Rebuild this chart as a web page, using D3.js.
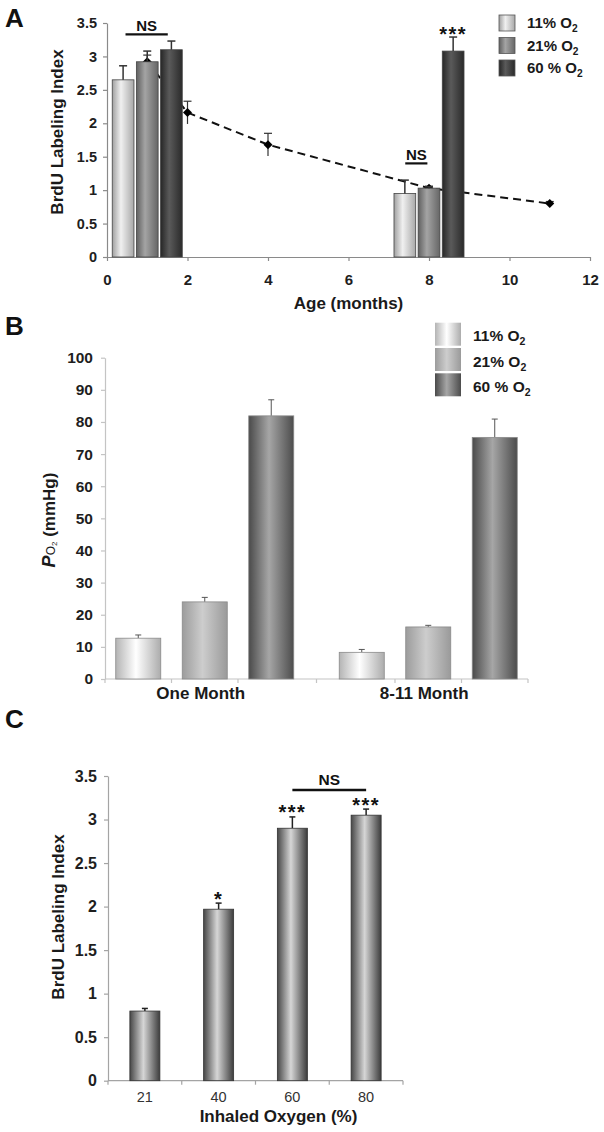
<!DOCTYPE html>
<html><head><meta charset="utf-8">
<script src="https://cdn.jsdelivr.net/npm/d3@7"></script>
<style>
body{margin:0;background:#fff;}
svg{display:block;font-family:"Liberation Sans",Arial,sans-serif;}
</style></head><body><svg id="c" width="604" height="1132"></svg>
<script>
// ---------- Panel A data ----------
const seriesA = ["11% O", "21% O", "60 % O"];
const groupAges = [1, 8];
const barA11 = [2.65, 0.95];
const barA21 = [2.92, 1.03];
const barA60 = [3.10, 3.08];
const errA11 = [0.21, 0.20];
const errA21 = [0.16, 0.02];
const errA60 = [0.13, 0.21];
const lineAges = [1, 2, 4, 8, 11];
const lineVals = [2.92, 2.16, 1.68, 1.03, 0.80];
const lineErr = [0.10, 0.17, 0.17, 0.03, 0.03];
const ticksAx = [0, 2, 4, 6, 8, 10, 12];
const ticksAy = [0, 0.5, 1, 1.5, 2, 2.5, 3, 3.5];
// annotations: [x0, x1 (months), y value, label]
const nsA = [[0.46, 1.51, 3.33, "NS"], [7.41, 7.96, 1.40, "NS"]];
const starsA = ["", "***"]; // over 60% bars per group

// ---------- Panel B data ----------
const seriesB = ["11% O", "21% O", "60 % O"];
const categoriesB = ["One Month", "8-11 Month"];
const barB11 = [12.7, 8.3];
const barB21 = [24.0, 16.2];
const barB60 = [81.9, 75.2];
const errB11 = [1.0, 0.9];
const errB21 = [1.4, 0.5];
const errB60 = [5.0, 5.7];
const ticksBy = [0, 10, 20, 30, 40, 50, 60, 70, 80, 90, 100];

// ---------- Panel C data ----------
const categoriesC = ["21", "40", "60", "80"];
const valuesC = [0.80, 1.97, 2.90, 3.05];
const errC = [0.03, 0.07, 0.13, 0.07];
const starsC = ["", "*", "***", "***"];
const nsC = [["60", "80", 3.34, "NS"]];
const ticksCy = [0, 0.5, 1, 1.5, 2, 2.5, 3, 3.5];

const svg = d3.select("#c");
const defs = svg.append("defs");
function grad(id, stops) {
  const g = defs.append("linearGradient").attr("id", id)
    .attr("x1", "0").attr("x2", "1").attr("y1", "0").attr("y2", "0");
  stops.forEach(([o, c]) => g.append("stop").attr("offset", o).attr("stop-color", c));
}
grad("gA0", [[0, "#a0a0a0"], [0.4, "#f0f0f0"], [1, "#a8a8a8"]]);
grad("gA1", [[0, "#606060"], [0.4, "#a4a4a4"], [1, "#666666"]]);
grad("gA2", [[0, "#262626"], [0.4, "#5a5a5a"], [1, "#2a2a2a"]]);
grad("gB0", [[0, "#b4b4b4"], [0.45, "#ffffff"], [1, "#acacac"]]);
grad("gB1", [[0, "#9c9c9c"], [0.45, "#cdcdcd"], [1, "#9a9a9a"]]);
grad("gB2", [[0, "#4a4a4a"], [0.45, "#a6a6a6"], [1, "#4c4c4c"]]);
grad("gC", [[0, "#474747"], [0.45, "#d6d6d6"], [1, "#3c3c3c"]]);

const FONT = "'Liberation Sans', Arial, sans-serif";
function errBar(g, cx, yTop, yBase, capW, color, w) {
  g.append("line").attr("x1", cx).attr("x2", cx).attr("y1", yBase).attr("y2", yTop)
    .attr("stroke", color).attr("stroke-width", w);
  g.append("line").attr("x1", cx - capW / 2).attr("x2", cx + capW / 2).attr("y1", yTop).attr("y2", yTop)
    .attr("stroke", color).attr("stroke-width", w);
}
function styleAxis(ax, col, fs, weight, tcol) {
  ax.selectAll("path.domain").attr("stroke", col).attr("stroke-width", 1.2);
  ax.selectAll(".tick line").attr("stroke", col).attr("stroke-width", 1.2);
  ax.selectAll(".tick text").attr("font-size", fs).attr("font-weight", weight)
    .attr("fill", tcol).attr("font-family", FONT);
}
function subLabel(g, x, y, main, fs, weight) {
  const t = g.append("text").attr("x", x).attr("y", y).attr("font-size", fs)
    .attr("font-weight", weight).attr("fill", "#1a1a1a");
  t.append("tspan").text(main);
  t.append("tspan").attr("dy", 4).attr("font-size", fs * 0.68).text("2");
  return t;
}
function panelLabel(t, y) {
  svg.append("text").attr("x", 5).attr("y", y).attr("font-size", 26).attr("font-weight", "bold")
    .attr("fill", "#111").text(t);
}
function stars(g, x, y, t) {
  g.append("text").attr("x", x).attr("y", y).attr("text-anchor", "middle")
    .attr("font-size", 20).attr("font-weight", "bold").attr("letter-spacing", 1.5).attr("fill", "#111").text(t);
}

// =============== PANEL A ===============
const xA = d3.scaleLinear().domain([0, 12]).range([107, 590]);
const yA = d3.scaleLinear().domain([0, 3.5]).range([257, 23]);
const gA = svg.append("g");
panelLabel("A", 27);

const axAy = gA.append("g").attr("transform", `translate(${xA(0)},0)`)
  .call(d3.axisLeft(yA).tickValues(ticksAy).tickSize(4).tickSizeOuter(0).tickPadding(6).tickFormat(d3.format("")));
styleAxis(axAy, "#8a8a8a", 14.5, "bold", "#1e1e1e");
const axAx = gA.append("g").attr("transform", `translate(0,${yA(0)})`)
  .call(d3.axisBottom(xA).tickValues(ticksAx).tickSize(4).tickSizeOuter(0).tickPadding(13).tickFormat(d3.format("")));
styleAxis(axAx, "#8a8a8a", 15, "bold", "#1e1e1e");

gA.append("text").attr("transform", `translate(63,132) rotate(-90)`).attr("text-anchor", "middle")
  .attr("font-size", 17).attr("font-weight", "bold").attr("fill", "#1a1a1a").text("BrdU Labeling Index");
gA.append("text").attr("x", xA(6)).attr("y", 309).attr("text-anchor", "middle")
  .attr("font-size", 17).attr("font-weight", "bold").attr("fill", "#1a1a1a").text("Age (months)");

// dashed line (behind bars)
const linePts = lineAges.map((a, i) => [a, lineVals[i], lineErr[i]]);
gA.append("path").datum(linePts)
  .attr("d", d3.line().x(d => xA(d[0])).y(d => yA(d[1])))
  .attr("fill", "none").attr("stroke", "#111").attr("stroke-width", 2).attr("stroke-dasharray", "8,5");
linePts.forEach(d => {
  errBar(gA, xA(d[0]), yA(d[1] + d[2]), yA(d[1] - d[2]), 8, "#333", 1.2);
  gA.append("path").attr("d", d3.symbol(d3.symbolSquare, 40)())
    .attr("transform", `translate(${xA(d[0])},${yA(d[1])}) rotate(45)`).attr("fill", "#000");
});

const innerA = d3.scaleBand().domain(seriesA).range([-0.9, 0.9]).paddingInner(0.1).paddingOuter(0.05);
const valsA = [barA11, barA21, barA60], errsA = [errA11, errA21, errA60];
seriesA.forEach((s, si) => {
  groupAges.forEach((age, gi) => {
    const x0 = xA(age + innerA(s)), x1 = xA(age + innerA(s) + innerA.bandwidth());
    const v = valsA[si][gi], e = errsA[si][gi];
    gA.append("rect").attr("x", x0).attr("y", yA(v)).attr("width", x1 - x0).attr("height", yA(0) - yA(v))
      .attr("fill", "url(#gA" + si + ")").attr("stroke", "#444").attr("stroke-width", 0.8);
    errBar(gA, (x0 + x1) / 2, yA(v + e), yA(v), 8, "#333", 1.5);
    if (si === 2 && starsA[gi]) stars(gA, (x0 + x1) / 2, yA(v + e) + 4, starsA[gi]);
  });
});
nsA.forEach(([a0, a1, v, t]) => {
  gA.append("line").attr("x1", xA(a0)).attr("x2", xA(a1)).attr("y1", yA(v)).attr("y2", yA(v))
    .attr("stroke", "#111").attr("stroke-width", 2.2);
  gA.append("text").attr("x", (xA(a0) + xA(a1)) / 2).attr("y", yA(v) - 3).attr("text-anchor", "middle")
    .attr("font-size", 15).attr("font-weight", "bold").attr("fill", "#111").text(t);
});
// legend A
seriesA.forEach((s, i) => {
  const y = 15 + i * 22.5;
  gA.append("rect").attr("x", 499).attr("y", y).attr("width", 16).attr("height", 16)
    .attr("fill", "url(#gA" + i + ")").attr("stroke", "#555").attr("stroke-width", 0.8);
  subLabel(gA, 527, y + 13, s, 15, "bold");
});

// =============== PANEL B ===============
const yB = d3.scaleLinear().domain([0, 100]).range([679, 357.7]);
const xB = d3.scaleBand().domain(categoriesB).range([93, 540]);
const innerB = d3.scaleBand().domain(seriesB).range([0, xB.bandwidth()]).paddingInner(0.323).paddingOuter(0.342);
const gB = svg.append("g");
panelLabel("B", 335);

const axBy = gB.append("g").attr("transform", "translate(105,0)")
  .call(d3.axisLeft(yB).tickValues(ticksBy).tickSize(4).tickSizeOuter(0).tickPadding(8));
styleAxis(axBy, "#c4c4c4", 15.5, "bold", "#1e1e1e");
gB.append("line").attr("x1", 105).attr("x2", 528).attr("y1", yB(0)).attr("y2", yB(0))
  .attr("stroke", "#c4c4c4").attr("stroke-width", 1.2);

const valsB = [barB11, barB21, barB60], errsB = [errB11, errB21, errB60];
const barEdgesB = [];
categoriesB.forEach((c, ci) => {
  seriesB.forEach((s, si) => {
    const x0 = xB(c) + innerB(s), w = innerB.bandwidth();
    const v = valsB[si][ci], e = errsB[si][ci];
    barEdgesB.push([x0, x0 + w]);
    errBar(gB, x0 + w / 2, yB(v + e), yB(v), 6, "#555", 1);
    gB.append("rect").attr("x", x0).attr("y", yB(v)).attr("width", w).attr("height", yB(0) - yB(v))
      .attr("fill", "url(#gB" + si + ")").attr("stroke", "#8a8a8a").attr("stroke-width", 0.8);
  });
});
const tickXsB = [105];
for (let i = 1; i < barEdgesB.length; i++) tickXsB.push((barEdgesB[i - 1][1] + barEdgesB[i][0]) / 2);
tickXsB.push(528);
tickXsB.forEach(x => gB.append("line").attr("x1", x).attr("x2", x).attr("y1", yB(0)).attr("y2", yB(0) + 4)
  .attr("stroke", "#c4c4c4").attr("stroke-width", 1.2));
categoriesB.forEach(c => {
  gB.append("text").attr("x", xB(c) + xB.bandwidth() / 2 - 4).attr("y", 699).attr("text-anchor", "middle")
    .attr("font-size", 17).attr("font-weight", "bold").attr("fill", "#1a1a1a").text(c);
});
// y title B
const tB = gB.append("text").attr("transform", "translate(55,520) rotate(-90)").attr("text-anchor", "middle")
  .attr("fill", "#1a1a1a");
tB.append("tspan").attr("font-size", 18).attr("font-weight", "bold").attr("font-style", "italic").text("P");
tB.append("tspan").attr("font-size", 12).text("O");
tB.append("tspan").attr("font-size", 8).attr("dy", 2).text("2");
tB.append("tspan").attr("font-size", 17).attr("font-weight", "bold").attr("dy", -2).text(" (mmHg)");
// legend B
seriesB.forEach((s, i) => {
  const y = 322.7 + i * 25.3;
  gB.append("rect").attr("x", 435).attr("y", y).attr("width", 26).attr("height", 23)
    .attr("fill", "url(#gB" + i + ")");
  subLabel(gB, 473, y + 18.5, s, 15.5, "bold");
});

// =============== PANEL C ===============
const yC = d3.scaleLinear().domain([0, 3.5]).range([1080.7, 776]);
const xC = d3.scaleBand().domain(categoriesC).range([108, 403]).paddingInner(0.593).paddingOuter(0.2965);
const gC = svg.append("g");
panelLabel("C", 728);

const axCy = gC.append("g").attr("transform", "translate(108,0)")
  .call(d3.axisLeft(yC).tickValues(ticksCy).tickSize(4).tickSizeOuter(0).tickPadding(7).tickFormat(d3.format("")));
styleAxis(axCy, "#a4a4a4", 16, "bold", "#1e1e1e");
gC.append("line").attr("x1", 108).attr("x2", 403).attr("y1", yC(0)).attr("y2", yC(0))
  .attr("stroke", "#a4a4a4").attr("stroke-width", 1.2);
const stepC = xC.step();
[0, 1, 2, 3, 4].forEach(i => {
  const x = 108 + i * stepC;
  gC.append("line").attr("x1", x).attr("x2", x).attr("y1", yC(0)).attr("y2", yC(0) + 4)
    .attr("stroke", "#a4a4a4").attr("stroke-width", 1.2);
});
categoriesC.forEach((c, i) => {
  const x0 = xC(c), w = xC.bandwidth(), v = valuesC[i], e = errC[i];
  errBar(gC, x0 + w / 2, yC(v + e), yC(v), 6, "#222", 1.5);
  gC.append("rect").attr("x", x0).attr("y", yC(v)).attr("width", w).attr("height", yC(0) - yC(v))
    .attr("fill", "url(#gC)").attr("stroke", "#333").attr("stroke-width", 0.8);
  gC.append("text").attr("x", x0 + w / 2).attr("y", 1101.5).attr("text-anchor", "middle")
    .attr("font-size", 14.5).attr("fill", "#333").text(c);
  if (starsC[i]) stars(gC, x0 + w / 2, yC(v + e) + 2.5, starsC[i]);
});
nsC.forEach(([c0, c1, v, t]) => {
  const x0 = xC(c0) + xC.bandwidth() / 2, x1 = xC(c1) + xC.bandwidth() / 2;
  gC.append("line").attr("x1", x0).attr("x2", x1).attr("y1", yC(v)).attr("y2", yC(v))
    .attr("stroke", "#111").attr("stroke-width", 2.5);
  gC.append("text").attr("x", (x0 + x1) / 2).attr("y", yC(v) - 5).attr("text-anchor", "middle")
    .attr("font-size", 15.5).attr("font-weight", "bold").attr("fill", "#111").text(t);
});
gC.append("text").attr("transform", "translate(64,917) rotate(-90)").attr("text-anchor", "middle")
  .attr("font-size", 17).attr("font-weight", "bold").attr("fill", "#1a1a1a").text("BrdU Labeling Index");
gC.append("text").attr("x", 278.5).attr("y", 1122).attr("text-anchor", "middle")
  .attr("font-size", 17).attr("font-weight", "bold").attr("fill", "#1a1a1a").text("Inhaled Oxygen (%)");
</script></body></html>
